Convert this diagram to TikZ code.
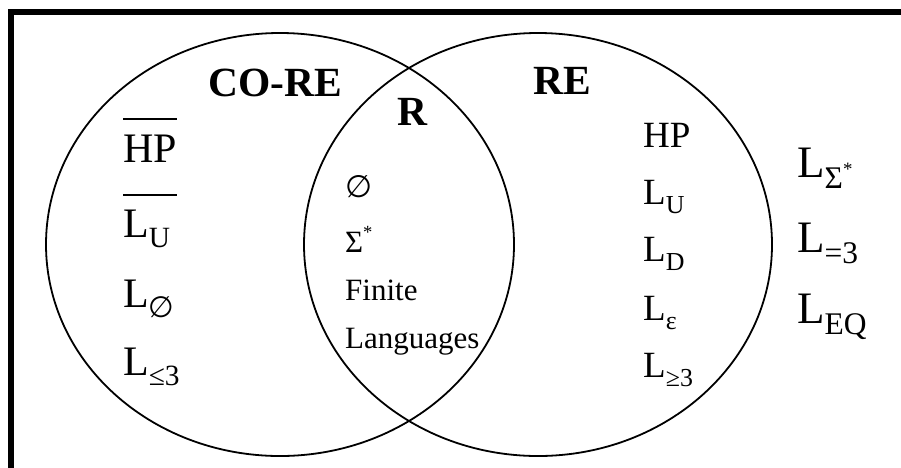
\documentclass[tikz,border=0pt]{standalone}
\usepackage{fontspec}
\usepackage{graphicx}
\usetikzlibrary{shapes.geometric}
\setmainfont{Liberation Serif}
\newfontfamily\symf{DejaVu Sans}
\newcommand{\sbs}[1]{\raisebox{-0.26em}{\scalebox{0.7}{#1}}}
\newcommand{\sps}[1]{\raisebox{0.42em}{\scalebox{0.6}{#1}}}
\newcommand{\empt}{{\symf ∅}}
\newcommand{\ovl}[3]{\vbox{\hrule width #1 height 2pt\kern#2\hbox{#3}}}
\begin{document}
\begin{tikzpicture}[x=1pt,y=-1pt,
  title/.style={anchor=base west,inner sep=0,font=\fontsize{41.5}{48}\selectfont\bfseries},
  big/.style={anchor=base west,inner sep=0,font=\fontsize{42}{50}\selectfont},
  mid/.style={anchor=base west,inner sep=0,font=\fontsize{31}{36}\selectfont},
  rc/.style={anchor=base west,inner sep=0,font=\fontsize{37}{44}\selectfont},
  outs/.style={anchor=base west,inner sep=0,font=\fontsize{45}{54}\selectfont},
  setshape/.style={draw,ellipse,line width=1.8pt,inner sep=0,minimum width=468pt,minimum height=423pt}]
\useasboundingbox (0,0) rectangle (901,467);
\clip (0,0) rectangle (901,467);
\coordinate (fb) at (11,500);
\coordinate (fc) at (11,12);
\coordinate (fr) at (920,12);
\draw[line width=6pt] (fb) -- (fc) -- (fr);
\node[setshape] (core) at (280,244.5) {};
\node[setshape] (re) at (538,244.5) {};
% titles
\node[title] (tcore) at (208,96) {CO-RE};
\node[title] (tr) at (397,125) {R};
\node[title] (tre) at (533,94) {RE};
% left column
\node[big] (l1) at (123,162) {\ovl{54pt}{15pt}{HP}};
\node[big] (l2) at (123,237) {\ovl{54pt}{14pt}{L\sbs{U}}};
\node[big] (l3) at (123,307) {L\sbs{\empt}};
\node[big] (l4) at (123,375) {L\sbs{≤3}};
% middle
\node[mid] (m1) at (345,197) {\empt};
\node[mid] (m2) at (345,252) {Σ\sps{*}};
\node[mid] (m3) at (345,300) {Finite};
\node[mid] (m4) at (345,348) {Languages};
% right column
\node[rc] (r1) at (643,147) {HP};
\node[rc] (r2) at (643,204) {L\sbs{U}};
\node[rc] (r3) at (643,261) {L\sbs{D}};
\node[rc] (r4) at (643,320) {L\sbs{ε}};
\node[rc] (r5) at (643,377) {L\sbs{≥3}};
% outside
\node[outs] (o1) at (797,177) {L\sbs{Σ\sps{*}}};
\node[outs] (o2) at (797,252) {L\sbs{=3}};
\node[outs] (o3) at (797,323) {L\sbs{EQ}};
\end{tikzpicture}
\end{document}
